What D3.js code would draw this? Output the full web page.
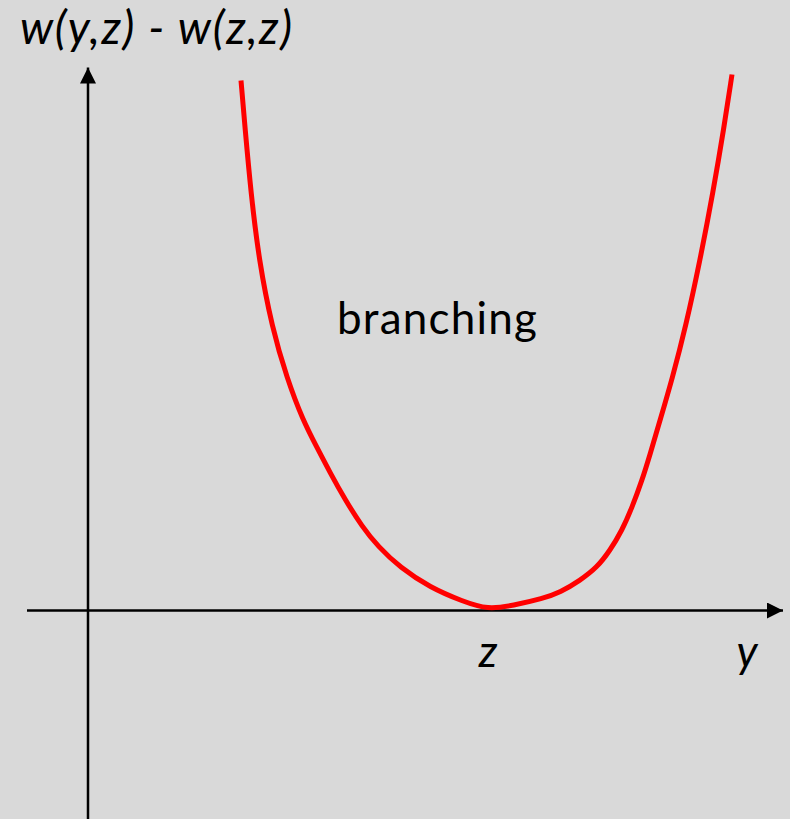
<!DOCTYPE html>
<html>
<head>
<meta charset="utf-8">
<script src="https://cdn.jsdelivr.net/npm/d3@7"></script>
<style>
  html, body { margin: 0; padding: 0; background: #d9d9d9; }
  svg { display: block; }
  text { font-family: Lato, "Open Sans", sans-serif; fill: #000; }
</style>
</head>
<body>
<svg id="chart"></svg>
<script>
// curve points (y, w(y,z) - w(z,z)), z sits at 4
var yValues = [1.53, 1.57, 1.63, 1.71, 1.84, 1.99, 2.15, 2.29, 2.42, 2.57, 2.74, 2.90, 3.12, 3.42, 3.75, 4.00, 4.25, 4.55, 4.72, 4.92, 5.09, 5.22, 5.34, 5.44, 5.54, 5.62, 5.72, 5.84, 5.98, 6.12, 6.25, 6.36, 6.44]
var wValues = [5.30, 4.83, 4.17, 3.50, 2.83, 2.32, 1.90, 1.63, 1.38, 1.11, 0.84, 0.64, 0.43, 0.23, 0.09, 0.01, 0.05, 0.12, 0.18, 0.30, 0.43, 0.60, 0.80, 1.03, 1.30, 1.56, 1.90, 2.31, 2.85, 3.50, 4.18, 4.83, 5.36]
var zValue = 4
var axisLabels = ["w(y,z) - w(z,z)", "y", "z"]
var regionLabel = "branching"

var dimensions = {
    width: 790,
    height: 819
}

var svg = d3.select("#chart")
    .attr("width", dimensions.width)
    .attr("height", dimensions.height)

var xScale = d3.scaleLinear()
    .domain([0, 7])
    .range([88, 788])

var yScale = d3.scaleLinear()
    .domain([0, 6])
    .range([610.5, 10.5])

var defs = svg.append("defs")
defs.append("marker")
    .attr("id", "arrow")
    .attr("viewBox", "0 0 16 16")
    .attr("refX", 16)
    .attr("refY", 8)
    .attr("markerUnits", "userSpaceOnUse")
    .attr("markerWidth", 16)
    .attr("markerHeight", 16)
    .attr("orient", "auto")
    .append("path")
    .attr("d", "M0,0 L16,8 L0,16 Z")
    .attr("fill", "#000")

// x axis
svg.append("line")
    .attr("x1", xScale(-0.61))
    .attr("x2", xScale(6.95))
    .attr("y1", yScale(0))
    .attr("y2", yScale(0))
    .attr("stroke", "#000")
    .attr("stroke-width", 2.5)
    .attr("marker-end", "url(#arrow)")

// y axis
svg.append("line")
    .attr("x1", xScale(0))
    .attr("x2", xScale(0))
    .attr("y1", yScale(-3.5))
    .attr("y2", yScale(5.43))
    .attr("stroke", "#000")
    .attr("stroke-width", 2.5)
    .attr("marker-end", "url(#arrow)")

var points = yValues.map(function(d, i) { return [d, wValues[i]] })

var line = d3.line()
    .x(d => xScale(d[0]))
    .y(d => yScale(d[1]))
    .curve(d3.curveBasis)

svg.append("path")
    .datum(points)
    .attr("d", line)
    .attr("fill", "none")
    .attr("stroke", "#ff0000")
    .attr("stroke-width", 5)

//labels
svg.append("text")
    .attr("x", 20)
    .attr("y", 44)
    .attr("textLength", 272)
    .attr("lengthAdjust", "spacing")
    .style("font-size", "46px")
    .style("font-style", "italic")
    .text(axisLabels[0])

svg.append("text")
    .attr("x", 747)
    .attr("y", 667)
    .style("font-size", "44px")
    .style("font-style", "italic")
    .style("text-anchor", "middle")
    .text(axisLabels[1])

svg.append("text")
    .attr("x", xScale(zValue))
    .attr("y", 667)
    .style("font-size", "44px")
    .style("font-style", "italic")
    .style("text-anchor", "middle")
    .text(axisLabels[2])

svg.append("text")
    .attr("x", 337)
    .attr("y", 334)
    .attr("textLength", 200)
    .attr("lengthAdjust", "spacing")
    .style("font-size", "44px")
    .text(regionLabel)
</script>
</body>
</html>
